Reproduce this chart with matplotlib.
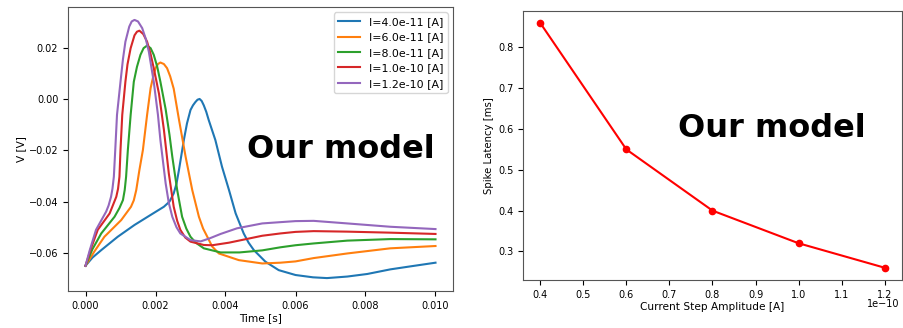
import matplotlib
matplotlib.use("Agg")
import matplotlib.pyplot as plt
from matplotlib.ticker import FuncFormatter
import numpy as np

# Membrane voltage traces (time in ms, voltage in mV) for each current step
labels = ["I=4.0e-11 [A]", "I=6.0e-11 [A]", "I=8.0e-11 [A]", "I=1.0e-10 [A]", "I=1.2e-10 [A]"]

t_40 = [0, 0.2, 0.45, 0.92, 1.4, 1.86, 2.24, 2.4, 2.52, 2.6, 2.67, 2.81, 2.9, 3.0, 3.07, 3.14, 3.2,
        3.26, 3.32, 3.38, 3.45, 3.52, 3.71, 3.9, 4.1, 4.29, 4.52, 4.66, 4.81, 5.14, 5.52, 6.0,
        6.5, 6.9, 7.48, 8.05, 8.71, 9.3, 10.0]
v_40 = [-65, -61.8, -58.9, -53.7, -49.1, -45.2, -42.0, -40.0, -36.8, -33.0, -27.7, -16.0, -9.5, -4.3, -2.5, -1.2, -0.3,
        0.0, -0.8, -2.5, -5.0, -8.2, -16.0, -26.4, -35.5, -44.6, -52.4, -56.0, -58.9, -63.4, -66.7, -68.6,
        -69.5, -69.8, -69.2, -68.2, -66.4, -65.2, -63.8]

t_60 = [0, 0.25, 0.54, 1.02, 1.3, 1.38, 1.45, 1.54, 1.64, 1.76, 1.86, 1.93, 2.0, 2.07, 2.14, 2.24,
        2.33, 2.42, 2.52, 2.67, 2.86, 3.05, 3.24, 3.36, 3.48, 3.62, 3.81, 4.38, 5.05, 5.57, 6.0,
        6.52, 7.48, 8.71, 10.0]
v_60 = [-65, -59.5, -53.7, -47.2, -42.0, -39.5, -35.5, -27.7, -19.9, -6.2, 4.2, 8.5, 12.0, 13.6, 14.2, 13.6,
        12.0, 8.8, 4.0, -8.0, -22.5, -35.5, -45.9, -50.5, -53.7, -57.5, -60.2, -62.8, -64.1, -63.8, -63.3,
        -62.0, -60.2, -58.2, -57.3]

t_80 = [0, 0.2, 0.45, 0.83, 0.97, 1.07, 1.12, 1.16, 1.21, 1.29, 1.38, 1.47, 1.57, 1.66, 1.76, 1.86,
        1.95, 2.05, 2.14, 2.29, 2.40, 2.48, 2.62, 2.76, 2.88, 3.0, 3.15, 3.38, 3.86, 4.4, 5.05,
        5.57, 6.0, 6.52, 7.48, 8.71, 10.0]
v_80 = [-65, -58.5, -52.4, -45.9, -42.5, -39.4, -35.5, -30.3, -19.9, -6.2, 6.7, 12.5, 17.2, 19.8, 20.8, 19.8,
        17.2, 12.5, 6.7, -4.0, -14.0, -22.5, -35.5, -45.9, -50.5, -53.7, -56.0, -58.2, -59.8, -59.8, -59.0,
        -57.8, -57.0, -56.3, -55.2, -54.6, -54.7]

t_100 = [0, 0.15, 0.35, 0.69, 0.88, 0.93, 0.97, 1.0, 1.05, 1.14, 1.2, 1.29, 1.4, 1.47, 1.54, 1.65,
         1.76, 1.86, 1.95, 2.1, 2.24, 2.38, 2.52, 2.62, 2.71, 2.85, 3.0, 3.38, 3.62, 4.1, 5.05,
         5.57, 6.0, 6.52, 7.48, 8.71, 10.0]
v_100 = [-65, -58.5, -51.0, -44.6, -38.1, -35.0, -30.3, -19.9, -6.2, 6.7, 13.5, 19.8, 24.8, 26.2, 26.6, 25.3,
         22.3, 17.5, 12.0, 2.0, -12.0, -29.0, -42.0, -47.5, -51.0, -54.0, -55.6, -56.9, -57.0, -56.0, -53.3,
         -52.4, -51.8, -51.5, -51.7, -52.1, -52.6]

t_120 = [0, 0.12, 0.3, 0.59, 0.66, 0.73, 0.77, 0.81, 0.85, 0.9, 1.0, 1.07, 1.14, 1.25, 1.32, 1.4,
         1.5, 1.62, 1.72, 1.81, 1.95, 2.07, 2.14, 2.29, 2.38, 2.48, 2.6, 2.71, 3.0, 3.29, 3.55,
         3.86, 4.33, 5.05, 5.57, 6.0, 6.52, 7.48, 8.71, 10.0]
v_120 = [-65, -59.0, -51.0, -43.9, -41.5, -38.1, -35.0, -30.3, -19.9, -6.2, 6.7, 15.5, 22.3, 28.2, 30.2, 30.8,
         30.2, 27.6, 23.5, 18.4, 6.7, -6.2, -16.0, -32.9, -40.5, -45.9, -50.0, -52.4, -55.0, -55.5, -54.3,
         -52.6, -50.4, -48.5, -48.0, -47.6, -47.5, -48.5, -49.8, -50.7]

times = [t_40, t_60, t_80, t_100, t_120]
volts = [v_40, v_60, v_80, v_100, v_120]

# Spike latency versus current step amplitude
amplitudes = [4.0e-11, 6.0e-11, 8.0e-11, 1.0e-10, 1.2e-10]
latency_ms = [0.86, 0.55, 0.40, 0.32, 0.26]
amp_scale = 1e-10

fig = plt.figure(figsize=(9.04, 3.28), dpi=100)

ax1 = fig.add_axes([68 / 904, 37 / 328, 385 / 904, 284 / 328])
for t, v, lab in zip(times, volts, labels):
    ax1.plot(np.array(t) * 1e-3, np.array(v) * 1e-3, lw=1.5, label=lab)
ax1.set_xticks([0.0, 0.002, 0.004, 0.006, 0.008, 0.010])
ax1.set_yticks([-0.06, -0.04, -0.02, 0.0, 0.02])
ax1.tick_params(labelsize=7)
ax1.set_xlabel("Time [s]", fontsize=7.6, labelpad=2)
ax1.set_ylabel("V [V]", fontsize=7.6, labelpad=2)
ax1.legend(loc="upper right", fontsize=7.9, handlelength=2.0, labelspacing=0.5)

ax2 = fig.add_axes([523 / 904, 48 / 328, 379 / 904, 269.3 / 328])
ax2.plot(amplitudes, latency_ms, color="red", marker="o", ms=4.5, lw=1.5)
ax2.set_xlim(0.36e-10, 1.24e-10)
ax2.set_xticks([0.4e-10, 0.5e-10, 0.6e-10, 0.7e-10, 0.8e-10, 0.9e-10, 1.0e-10, 1.1e-10, 1.2e-10])
ax2.xaxis.set_major_formatter(FuncFormatter(lambda x, pos: f"{x / amp_scale:.1f}"))
ax2.set_yticks([0.3, 0.4, 0.5, 0.6, 0.7, 0.8])
ax2.tick_params(labelsize=7)
ax2.text(0.993, -0.072, "1e\u221210", transform=ax2.transAxes, ha="right", va="top", fontsize=7)
ax2.set_xlabel("Current Step Amplitude [A]", fontsize=7.6, labelpad=2)
ax2.set_ylabel("Spike Latency [ms]", fontsize=7.3, labelpad=3)

for ax in (ax1, ax2):
    for sp in ax.spines.values():
        sp.set_color("#555555")

fig.text(247 / 904, (328 - 158.3) / 328, "Our model", fontsize=23, fontweight="bold",
         ha="left", va="baseline")
fig.text(678 / 904, (328 - 136.7) / 328, "Our model", fontsize=23, fontweight="bold",
         ha="left", va="baseline")

fig.savefig("out.png", dpi=100)
